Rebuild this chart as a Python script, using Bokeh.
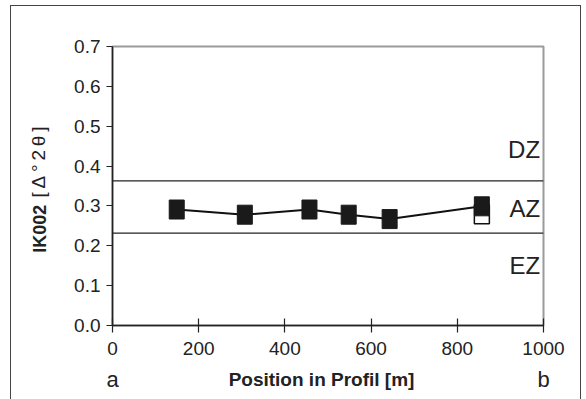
import math
from bokeh.plotting import figure
from bokeh.models import Range1d, FixedTicker, Label, Span, LinearAxis
from bokeh.embed import file_html
from bokeh.resources import INLINE

# data
positions = [149, 307, 457, 548, 643, 857]
ik002 = [0.291, 0.278, 0.291, 0.278, 0.267, 0.299]
open_positions = [857]
open_ik002 = [0.279]
zone_bounds = [0.363, 0.232]
zone_names = ["DZ", "AZ", "EZ"]
zone_label_y = [0.442, 0.293, 0.150]
y_ticks = [0.0, 0.1, 0.2, 0.3, 0.4, 0.5, 0.6, 0.7]
x_ticks = [0, 200, 400, 600, 800, 1000]
end_labels = {0: "a", 1000: "b"}
x_title = "Position in Profil [m]"
y_title_bold = "IK002"
y_title_unit = "[\u2009\u0394\u2009\u00b0\u20092\u2009\u03b8\u2009]"

FONT = "Liberation Sans"
INK = "#222222"

frame_css = ("linear-gradient(#444,#444) 10px 5px / 1px 400px no-repeat, "
             "linear-gradient(#444,#444) 10px 5px / 571px 1px no-repeat, "
             "linear-gradient(#444,#444) 580px 5px / 1px 400px no-repeat, white")

p = figure(width=586, height=399, output_backend="svg", toolbar_location=None,
           x_range=Range1d(0, 1000), y_range=Range1d(0, 0.7),
           min_border_left=112, min_border_right=43, min_border_top=46, min_border_bottom=74,
           styles={"background": frame_css})
p.grid.visible = False
p.background_fill_color = "white"
p.border_fill_color = None
p.outline_line_color = "#9a9a9a"
p.outline_line_width = 2

# main axes
p.xaxis.ticker = FixedTicker(ticks=x_ticks)
p.yaxis.ticker = FixedTicker(ticks=y_ticks)
p.yaxis.major_label_overrides = {t: f"{t:.1f}" for t in y_ticks}
for ax in (p.xaxis[0], p.yaxis[0]):
    ax.axis_line_color = INK
    ax.axis_line_width = 1.5
    ax.major_tick_line_color = INK
    ax.major_tick_line_width = 1.2
    ax.minor_tick_line_color = None
    ax.major_label_text_font = FONT
    ax.major_label_text_font_size = "19px"
    ax.major_label_text_color = INK
p.xaxis.major_tick_in = 7
p.xaxis.major_tick_out = 7
p.xaxis.major_label_standoff = 9
p.yaxis.major_tick_in = 0
p.yaxis.major_tick_out = 6
p.yaxis.major_label_standoff = 6


def text_axis(ticks, labels, size, bold, standoff, orientation="horizontal"):
    ax = LinearAxis(ticker=FixedTicker(ticks=ticks), major_label_overrides=labels,
                    axis_line_color=None, major_tick_line_color=None, minor_tick_line_color=None,
                    major_tick_in=0, major_tick_out=0, major_label_standoff=standoff,
                    major_label_text_font=FONT, major_label_text_font_size=size,
                    major_label_text_font_style="bold" if bold else "normal",
                    major_label_text_color=INK, major_label_orientation=orientation)
    return ax


# bottom: a / b and the title on one row
p.add_layout(text_axis([0, 1000], end_labels, "22px", False, 9), "below")
p.add_layout(text_axis([485], {485: x_title}, "19px", True, -26), "below")

# left: rotated title in two weights on one column
p.add_layout(text_axis([0.243], {0.243: y_title_bold}, "18px", True, 21, "vertical"), "left")
p.add_layout(text_axis([0.41], {0.41: y_title_unit}, "19px", False, -22, "vertical"), "left")

# zone boundaries
for b in zone_bounds:
    p.add_layout(Span(location=b, dimension="width", line_color=INK, line_width=1.2))

for name, yy in zip(zone_names, zone_label_y):
    p.add_layout(Label(x=992, y=yy, text=name, text_align="right", text_baseline="middle",
                       text_font=FONT, text_font_size="24px", text_color=INK))

# series
p.rect(open_positions, open_ik002, width=15, height=19, width_units="screen", height_units="screen",
       fill_color="white", line_color="#111111", line_width=1.5)
p.line(positions, ik002, line_color="#111111", line_width=2)
p.rect(positions, ik002, width=15, height=19, width_units="screen", height_units="screen",
       fill_color="#1a1a1a", line_color="#1a1a1a")

open("out.html", "w").write(file_html(p, INLINE))
